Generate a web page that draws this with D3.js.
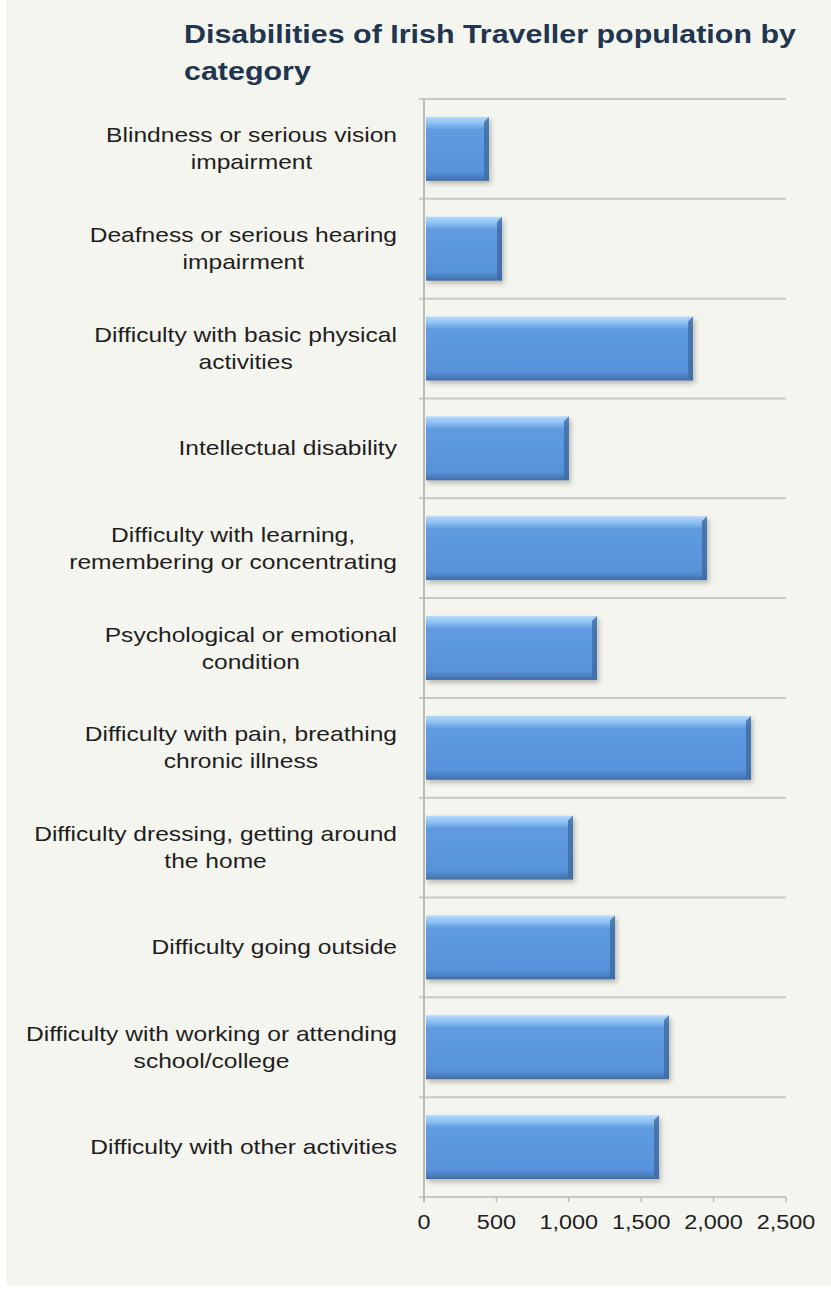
<!DOCTYPE html>
<html><head><meta charset="utf-8">
<script src="https://cdn.jsdelivr.net/npm/d3@7"></script>
<style>
body{margin:0;background:#ffffff;}
svg{display:block;font-family:"Liberation Sans",Arial,sans-serif;}
</style></head>
<body><svg id="chart" width="831" height="1292"></svg>
<script>
const titleLines = ["Disabilities of Irish Traveller population by", "category"];
const categories = [
  "Blindness or serious vision\nimpairment",
  "Deafness or serious hearing\nimpairment",
  "Difficulty with basic physical\nactivities",
  "Intellectual disability",
  "Difficulty with learning,\nremembering or concentrating",
  "Psychological or emotional\ncondition",
  "Difficulty with pain, breathing\nchronic illness",
  "Difficulty dressing, getting around\nthe home",
  "Difficulty going outside",
  "Difficulty with working or attending\nschool/college",
  "Difficulty with other activities"
];
const values = [449, 539, 1858, 1001, 1954, 1195, 2258, 1029, 1319, 1692, 1623];
const tickValues = [0, 500, 1000, 1500, 2000, 2500];

const STRETCH = 1.17;
function stretch(sel) {
  sel.each(function () {
    const len = this.getComputedTextLength();
    d3.select(this).attr("textLength", len * STRETCH).attr("lengthAdjust", "spacingAndGlyphs");
  });
}

const svg = d3.select("#chart");
const M = {left: 424, right: 786, top: 99, bottom: 1197};

svg.append("rect").attr("x", 6).attr("y", 0).attr("width", 825).attr("height", 1286).attr("fill", "#f5f5ef");

const defs = svg.append("defs");
const g1 = defs.append("linearGradient").attr("id", "barGrad").attr("x1", 0).attr("y1", 0).attr("x2", 0).attr("y2", 1);
[[0, "#b3d9fb"], [0.1, "#8ec1f2"], [0.2, "#5f9be0"], [0.85, "#5893da"], [0.95, "#4a7dbd"], [1, "#3f6aa0"]]
  .forEach(([o, c]) => g1.append("stop").attr("offset", o).attr("stop-color", c));
const f = defs.append("filter").attr("id", "shadow").attr("x", "-5%").attr("y", "-20%").attr("width", "115%").attr("height", "160%");
f.append("feDropShadow").attr("dx", 2).attr("dy", 3).attr("stdDeviation", 2.5).attr("flood-color", "#000").attr("flood-opacity", 0.25);

const x = d3.scaleLinear().domain([0, 2500]).range([M.left, M.right]);
const y = d3.scaleBand().domain(categories).range([M.top, M.bottom]).paddingInner(0.36).paddingOuter(0.18);
const yb = d3.scaleBand().domain(categories).range([M.top, M.bottom]);

// gridlines at band boundaries
const bounds = categories.map(c => yb(c)).concat([M.bottom]);
svg.append("g").selectAll("line").data(bounds).join("line")
  .attr("x1", M.left - 5).attr("x2", M.right)
  .attr("y1", d => d).attr("y2", d => d)
  .attr("stroke", "#c9c9c4").attr("stroke-width", 2);

// left axis line
svg.append("line").attr("x1", M.left).attr("x2", M.left).attr("y1", M.top).attr("y2", M.bottom + 5)
  .attr("stroke", "#bdbdb8").attr("stroke-width", 2);

// bottom ticks
svg.append("g").selectAll("line").data(tickValues).join("line")
  .attr("x1", d => x(d)).attr("x2", d => x(d)).attr("y1", M.bottom).attr("y2", M.bottom + 5)
  .attr("stroke", "#bdbdb8").attr("stroke-width", 1.5);

// bars
const bars = svg.append("g").selectAll("g").data(categories).join("g");
bars.append("rect")
  .attr("x", x(0) + 2).attr("y", d => y(d))
  .attr("width", (d, i) => x(values[i]) - x(0) - 2).attr("height", y.bandwidth())
  .attr("fill", "url(#barGrad)").attr("filter", "url(#shadow)");
bars.append("path")
  .attr("d", (d, i) => {
    const xr = x(values[i]), y0 = y(d), h = y.bandwidth();
    return `M${xr - 5},${y0 + 5} L${xr},${y0} L${xr},${y0 + h} L${xr - 5},${y0 + h - 3} Z`;
  })
  .attr("fill", "#3e6aa3").attr("opacity", 0.8);

// category labels
const lbl = svg.append("g").attr("font-size", 21).attr("fill", "#1e1e1e");
categories.forEach(c => {
  const lines = c.split("\n");
  const cy = yb(c) + yb.bandwidth() / 2;
  const t = lbl.append("text").attr("y", cy - (lines.length - 1) * 13.5 + 7);
  const ts = t.selectAll("tspan").data(lines).join("tspan").attr("dy", (l, i) => i === 0 ? 0 : 27).text(l => l);
  const lens = ts.nodes().map(n => n.getComputedTextLength() * STRETCH);
  const w = d3.max(lens);
  const cx = 397 - w / 2;
  ts.attr("x", (l, i) => cx - lens[i] / 2)
    .attr("textLength", (l, i) => lens[i]).attr("lengthAdjust", "spacingAndGlyphs");
});

// tick labels
const tl = svg.append("g").selectAll("text").data(tickValues).join("text")
  .attr("y", 1229).attr("font-size", 20).attr("fill", "#1e1e1e").text(d => d3.format(",")(d));
tl.each(function (d) {
  const len = this.getComputedTextLength() * STRETCH;
  d3.select(this).attr("x", x(d) - len / 2).attr("textLength", len).attr("lengthAdjust", "spacingAndGlyphs");
});

// title
svg.append("g").selectAll("text").data(titleLines).join("text")
  .attr("x", 184).attr("y", (d, i) => 43 + i * 37)
  .attr("font-size", 26).attr("font-weight", "bold").attr("fill", "#1f3550").text(d => d)
  .call(stretch);
</script></body></html>
